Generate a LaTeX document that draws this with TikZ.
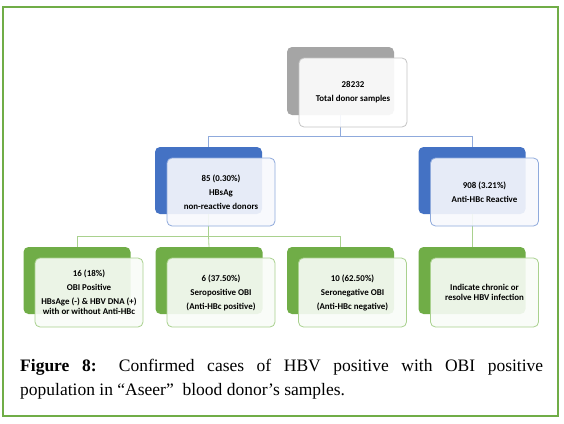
\documentclass[tikz,border=0pt]{standalone}
\usepackage{fontspec}
\setmainfont{Liberation Serif}
\newfontfamily\boxfont{Carlito}
\usetikzlibrary{positioning}
\definecolor{ggray}{HTML}{A5A5A5}
\definecolor{gblue}{HTML}{4472C4}
\definecolor{ggreen}{HTML}{70AD47}
\definecolor{lgray}{HTML}{C4C4C4}
\definecolor{lblue}{HTML}{8FAADC}
\definecolor{lgreen}{HTML}{A9D18E}
\definecolor{frameg}{HTML}{70AD47}
\begin{document}
\begin{tikzpicture}[x=1pt,y=-1pt,
  back/.style={rounded corners=5pt, minimum width=107pt, minimum height=67pt, inner sep=0pt, draw=none},
  front/.style={rounded corners=5pt, minimum width=108pt, minimum height=69pt, inner sep=0pt, fill opacity=0.9, text opacity=1, align=center, font=\boxfont\bfseries\fontsize{8.9}{14}\selectfont, line width=0.8pt},
  bconn/.style={draw=lblue, line width=0.8pt},
  gconn/.style={draw=lgreen, line width=0.8pt}]
\useasboundingbox (0,0) rectangle (564,423);
\fill[white] (0,0) rectangle (564,423);
\draw[frameg, line width=1.2pt] (3,7) rectangle (558,416);
% back boxes
\node[back, fill=ggray, minimum height=68pt] (tb) at (340.5,81) {};
\node[back, fill=gblue] (blb) at (208.5,180.5) {};
\node[back, fill=gblue] (brb) at (472,180.5) {};
\node[back, fill=ggreen] (g1b) at (77,280.5) {};
\node[back, fill=ggreen] (g2b) at (209,280.5) {};
\node[back, fill=ggreen] (g3b) at (340.5,280.5) {};
\node[back, fill=ggreen] (g4b) at (472,280.5) {};
% connectors
\coordinate (j1) at (340.5,136);
\coordinate (j2) at (208.5,236);
\draw[bconn] (tb.south) -- (j1) -| (blb.north);
\draw[bconn] (j1) -| (brb.north);
\draw[gconn] (blb.south) -- (j2) -| (g1b.north);
\draw[gconn] (j2) -| (g3b.north);
\draw[gconn] (j2) -- (g2b.north);
\draw[gconn] (brb.south) -- (g4b.north);
% front boxes
\node[front, draw=lgray, fill=white] (tf) at (353,92.5) {28232\\Total donor samples};
\node[front, draw=lblue, fill=gblue!4!white, minimum height=68pt] (blf) at (221,192) {85 (0.30\%)\\HBsAg\\non-reactive donors};
\node[front, draw=lblue, fill=gblue!4!white, minimum height=68pt] (brf) at (484.5,192) {908 (3.21\%)\\Anti-HBc Reactive};
\node[front, draw=lgreen, fill=ggreen!4!white] (g1f) at (89,292.5) {16 (18\%)\\OBI Positive\\HBsAge (-) \& HBV DNA (+)\\[-4pt]with or without Anti-HBc};
\node[front, draw=lgreen, fill=ggreen!4!white] (g2f) at (221,292.5) {6 (37.50\%)\\Seropositive OBI\\(Anti-HBc positive)};
\node[front, draw=lgreen, fill=ggreen!4!white] (g3f) at (352.5,292.5) {10 (62.50\%)\\Seronegative OBI\\(Anti-HBc negative)};
\node[front, draw=lgreen, fill=ggreen!4!white] (g4f) at (484.5,292.5) {Indicate chronic or\\[-4pt]resolve HBV infection};
% caption
\node[anchor=north west, inner sep=0pt, text width=523pt, align=justify, font=\fontsize{17.5}{23.5}\selectfont] (cap) at (20,359)
  {\textbf{Figure 8:} Confirmed cases of HBV positive with OBI positive\linebreak population in “Aseer”\ \ blood donor’s samples.};
\end{tikzpicture}
\end{document}
